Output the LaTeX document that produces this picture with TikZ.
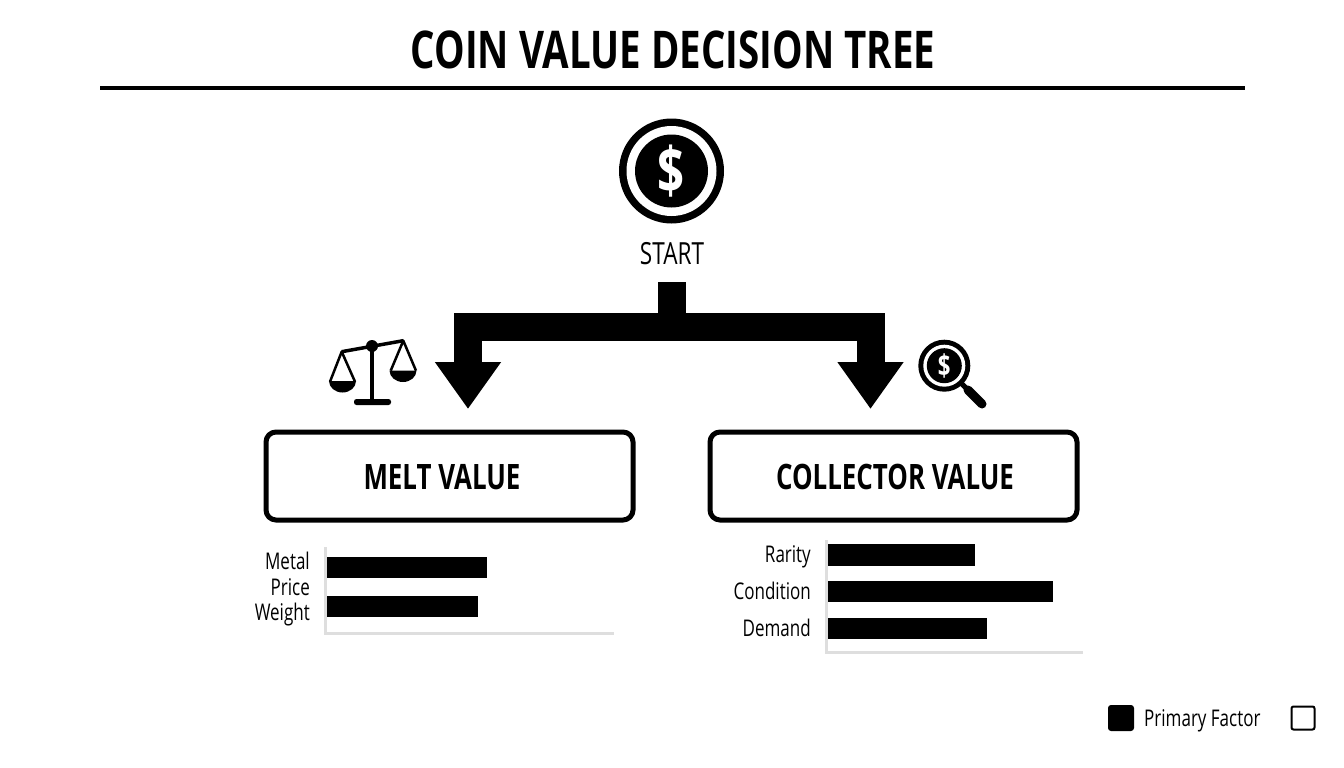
\documentclass[tikz,border=0pt]{standalone}
\usepackage{fontspec}
\setmainfont[FakeStretch=0.74]{Open Sans}
\usetikzlibrary{arrows.meta,positioning}
\definecolor{axisGray}{RGB}{222,222,222}
\tikzset{
    base/.style={font=\fontsize{23}{25}\selectfont, text=black, inner sep=0pt},
    heading/.style={base, font=\fontsize{52}{56}\selectfont\bfseries},
    boxtext/.style={base, font=\fontsize{35}{38}\selectfont\bfseries},
    startlabel/.style={base, font=\fontsize{30.5}{33}\selectfont},
    barlabel/.style={base, anchor=east},
    valuebox/.style={draw=black, line width=5pt, rounded corners=10pt, fill=white,
                     minimum width=367pt, minimum height=88pt, inner sep=0pt},
    branch/.style={line width=28pt, draw=black},
    branchtip/.style={-{Triangle[length=47pt,width=63pt]}},
    bar/.style={fill=black},
    axisline/.style={draw=axisGray, line width=3pt},
    icon/.style={line width=3.5pt, draw=black, line join=round},
    dollar/.style={base, text=white}
}
\begin{document}
\begin{tikzpicture}[x=1pt,y=-1pt]
  \useasboundingbox (0,0) rectangle (1344,768);

  % Title
  \node[heading] (title) at (673,50) {COIN VALUE DECISION TREE};
  \coordinate (ruleL) at (100,88);
  \coordinate (ruleR) at (1245,88);
  \draw[line width=3.5pt] (ruleL) -- (ruleR);

  % Start coin
  \fill[black] (671.5,171) circle (52.5);
  \fill[white] (671.5,171) circle (45);
  \fill[black] (671.5,171) circle (36.5);
  \node[dollar, font=\fontsize{64}{66}\selectfont\bfseries] (coin) at (671.5,171) {\$};
  \node[startlabel] (start) at (672,254) {START};

  % Forked arrow
  \coordinate (trunk) at (671.5,282);
  \coordinate (fork) at (671.5,327);
  \coordinate (tipL) at (468,409);
  \coordinate (tipR) at (870.5,409);
  \draw[branch] (trunk) -- (fork);
  \draw[branch, branchtip] (fork) -| (tipL);
  \draw[branch, branchtip] (fork) -| (tipR);

  % Scale icon
  \draw[icon] (341.7,351.7) -- (403.3,340.7);
  \draw[icon, line width=4pt] (372,346) -- (372,400);
  \fill[black] (372,346) circle (6);
  \fill[black, rounded corners=2.5pt] (354,399) rectangle (391,405);
  \draw[icon, line width=2.5pt] (330,381.7) -- (341.7,351.7) -- (355,381.7);
  \draw[icon, line width=2.5pt] (390.7,370.7) -- (403.3,340.7) -- (416,370.7);
  \fill[black] (329,381) arc[start angle=180, end angle=360, x radius=13.5, y radius=-11.5] -- cycle;
  \fill[black] (389.5,370.5) arc[start angle=180, end angle=360, x radius=13.5, y radius=-11.5] -- cycle;

  % Magnifier icon
  \draw[line width=5pt, line cap=round] (961,383) -- (969,391);
  \draw[line width=9pt, line cap=round] (968,390) -- (982,404);
  \fill[black] (944.3,365.7) circle (26);
  \fill[white] (944.3,365.7) circle (21);
  \fill[black] (944.3,365.7) circle (17.5);
  \node[dollar, font=\fontsize{30}{31}\selectfont\bfseries] (lens) at (944.3,365.7) {\$};

  % Value boxes
  \node[valuebox] (melt) at (449.5,476) {};
  \node[valuebox] (collector) at (893.5,476) {};
  \node[boxtext] (meltlabel) at (442,477) {MELT VALUE};
  \node[boxtext] (collectorlabel) at (895,477) {COLLECTOR VALUE};

  % Melt chart
  \draw[axisline] (325,547) -- (325,633) -- (614,633);
  \fill[bar] (327,557) rectangle (487,578);
  \fill[bar] (327,596) rectangle (478,617);
  \node[barlabel] (metal) at (310,561) {Metal};
  \node[barlabel] (price) at (310,587) {Price};
  \node[barlabel] (weight) at (310,615) {Weight};

  % Collector chart
  \draw[axisline] (826,540) -- (826,652) -- (1083,652);
  \fill[bar] (828,544) rectangle (975,566);
  \fill[bar] (828,581) rectangle (1053,602);
  \fill[bar] (828,618) rectangle (987,639);
  \node[barlabel] (rarity) at (811,557) {Rarity};
  \node[barlabel] (condition) at (811,591) {Condition};
  \node[barlabel] (demand) at (811,628) {Demand};

  % Legend
  \node[fill=black, rounded corners=3pt, minimum size=26pt, inner sep=0pt] (primary) at (1121,718) {};
  \node[base, anchor=west] (primarylabel) at (1144,721) {Primary Factor};
  \node[draw=black, line width=2pt, rounded corners=2pt, fill=white, minimum size=23pt, inner sep=0pt] (secondary) at (1303,718) {};
\end{tikzpicture}
\end{document}
